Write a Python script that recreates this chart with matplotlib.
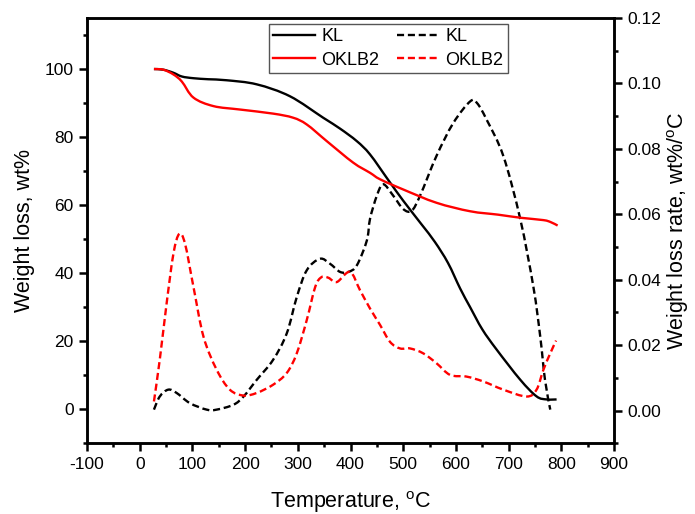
import matplotlib
matplotlib.use("Agg")
import numpy as np
import matplotlib.pyplot as plt
from matplotlib.path import Path
from matplotlib.patches import PathPatch
from matplotlib.lines import Line2D
from matplotlib.ticker import MultipleLocator, FormatStrFormatter

plt.rcParams['font.family'] = ['Liberation Sans', 'DejaVu Sans']
plt.rcParams['mathtext.fontset'] = 'custom'
plt.rcParams['mathtext.rm'] = 'Liberation Sans'
plt.rcParams['mathtext.it'] = 'Liberation Sans'
plt.rcParams['axes.unicode_minus'] = False

# TGA curves (weight remaining, wt%)
kl_tga_t = [27, 45, 64, 80, 102, 130, 165, 222, 285, 348, 380, 412, 437, 472,
            500, 535, 560, 585, 608, 627, 650, 677, 722, 753, 772, 791]
kl_tga_w = [100, 99.8, 98.9, 97.8, 97.3, 97.0, 96.7, 95.5, 92.0, 85.7, 82.5,
            78.8, 74.9, 67.3, 61.3, 54.3, 49.2, 43.0, 35.5, 30.0, 23.5, 17.6,
            8.7, 3.8, 2.9, 2.9]

ok_tga_t = [27, 45, 64, 80, 102, 140, 190, 253, 291, 317, 355, 405, 437, 456,
            500, 563, 627, 680, 722, 766, 780, 793]
ok_tga_w = [100, 99.8, 98.4, 96.3, 91.6, 89.1, 88.1, 86.9, 85.7, 83.7, 78.8,
            72.5, 69.5, 67.6, 64.6, 60.7, 58.2, 57.2, 56.3, 55.6, 55.0, 54.0]

# DTG curves (weight loss rate, wt%/oC)
kl_dtg_t = [27, 38, 54, 70, 95, 127, 146, 178, 197, 222, 253, 279, 298, 317,
            342, 361, 380, 396, 412, 431, 437, 450, 462, 481, 500, 516, 532,
            563, 595, 627, 640, 658, 690, 722, 747, 760, 769, 779]
kl_dtg_r = [0.0003, 0.0043, 0.0064, 0.0054, 0.0023, 0.0003, 0.0003, 0.0018,
            0.0043, 0.0094, 0.0155, 0.0236, 0.0347, 0.0429, 0.0464, 0.0449,
            0.0424, 0.0424, 0.0444, 0.052, 0.0586, 0.0657, 0.0692, 0.0657,
            0.0616, 0.0611, 0.0657, 0.0778, 0.0879, 0.0945, 0.094, 0.089,
            0.0778, 0.0586, 0.0378, 0.0226, 0.0094, 0.0003]

ok_dtg_t = [27, 38, 51, 64, 75, 86, 102, 121, 146, 171, 197, 222, 253, 279,
            298, 317, 333, 345, 358, 374, 399, 418, 437, 456, 475, 494, 513,
            538, 563, 589, 620, 652, 690, 734, 753, 766, 779, 790]
ok_dtg_r = [0.0028, 0.0155, 0.0327, 0.048, 0.054, 0.051, 0.0378, 0.0226,
            0.0125, 0.0064, 0.0046, 0.0054, 0.0079, 0.0115, 0.0175, 0.0277,
            0.0378, 0.0408, 0.0406, 0.0393, 0.0424, 0.0368, 0.0312, 0.0262,
            0.021, 0.019, 0.019, 0.0175, 0.0145, 0.0109, 0.0104, 0.0089,
            0.0064, 0.0043, 0.0064, 0.0125, 0.0175, 0.0214]

RED = '#ff0000'
LW = 1.7
DASH = (0, (3.0, 1.6))


def smooth_path(xs, ys):
    """Cubic Bezier path through the points (Catmull-Rom tangents)."""
    p = np.column_stack([xs, ys]).astype(float)
    n = len(p)
    verts = [p[0]]
    codes = [Path.MOVETO]
    for i in range(n - 1):
        p0 = p[i - 1] if i > 0 else p[i]
        p3 = p[i + 2] if i + 2 < n else p[i + 1]
        c1 = p[i] + (p[i + 1] - p0) / 6.0
        c2 = p[i + 1] - (p3 - p[i]) / 6.0
        verts += [c1, c2, p[i + 1]]
        codes += [Path.CURVE4] * 3
    return Path(verts, codes)


def draw_curve(axis, xs, ys, color, ls):
    patch = PathPatch(smooth_path(xs, ys), facecolor='none', edgecolor=color,
                      lw=LW, linestyle=ls, capstyle='butt', joinstyle='round')
    axis.add_patch(patch)


fig = plt.figure(figsize=(6.95, 5.14), dpi=100)
ax = fig.add_axes([0.1252, 0.1375, 0.7583, 0.8275])
ax2 = ax.twinx()

draw_curve(ax, kl_tga_t, kl_tga_w, 'black', '-')
draw_curve(ax, ok_tga_t, ok_tga_w, RED, '-')
draw_curve(ax2, kl_dtg_t, kl_dtg_r, 'black', DASH)
draw_curve(ax2, ok_dtg_t, ok_dtg_r, RED, DASH)

ax.set_xlim(-100, 900)
ax.set_ylim(-10, 115)
ax2.set_ylim(-0.01, 0.12)

ax.xaxis.set_major_locator(MultipleLocator(100))
ax.xaxis.set_minor_locator(MultipleLocator(50))
ax.yaxis.set_major_locator(MultipleLocator(20))
ax.yaxis.set_minor_locator(MultipleLocator(10))
ax2.yaxis.set_major_locator(MultipleLocator(0.02))
ax2.yaxis.set_minor_locator(MultipleLocator(0.01))
ax2.yaxis.set_major_formatter(FormatStrFormatter('%.2f'))

for a in (ax, ax2):
    for s in a.spines.values():
        s.set_linewidth(1.8)
    a.tick_params(which='major', length=5.5, width=1.8, labelsize=12.5, pad=4)
    a.tick_params(which='minor', length=3, width=1.8)

ax.set_xlabel('Temperature, $^{\\mathrm{o}}$C', fontsize=15.5, labelpad=13)
ax.set_ylabel('Weight loss, wt%', fontsize=15.5, labelpad=7)
ax2.set_ylabel('Weight loss rate, wt%/$^{\\mathrm{o}}$C', fontsize=15.5, labelpad=3)

handles = [Line2D([], [], color='black', lw=LW),
           Line2D([], [], color=RED, lw=LW),
           Line2D([], [], color='black', lw=LW, ls=DASH),
           Line2D([], [], color=RED, lw=LW, ls=DASH)]
leg = ax.legend(handles, ['KL', 'OKLB2', 'KL', 'OKLB2'], ncol=2,
                loc='upper left', bbox_to_anchor=(0.345, 0.986),
                fontsize=13, frameon=True, fancybox=False,
                edgecolor='#555555', framealpha=1, borderpad=0.25,
                handlelength=2.3, handletextpad=0.35, columnspacing=1.0,
                labelspacing=0.35, borderaxespad=0)
leg.get_frame().set_linewidth(1.0)
leg.set_zorder(5)
ax.set_zorder(ax2.get_zorder() + 1)
ax.patch.set_visible(False)

fig.savefig('out.png', dpi=100)
